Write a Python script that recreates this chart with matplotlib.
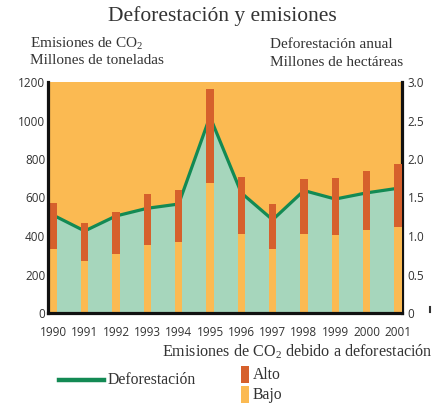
import matplotlib
matplotlib.use("Agg")
import matplotlib.pyplot as plt
from matplotlib.patches import Rectangle
from matplotlib.lines import Line2D

years = ["1990", "1991", "1992", "1993", "1994", "1995", "1996", "1997", "1998", "1999", "2000", "2001"]
# CO2 emissions due to deforestation (million tonnes)
bajo = [332, 270, 306, 353, 369, 675, 410, 332, 410, 405, 431, 447]
alto = [571, 468, 525, 618, 639, 1164, 706, 566, 696, 701, 738, 774]
# Annual deforestation (million hectares)
deforestacion = [1.27, 1.065, 1.26, 1.36, 1.415, 2.55, 1.56, 1.21, 1.59, 1.48, 1.56, 1.62]

ORANGE = "#FBBA52"
RED = "#D6602C"
GREEN_FILL = "#A6D6BC"
GREEN_LINE = "#138A54"
TXT = "#333333"

plt.rcParams["mathtext.fontset"] = "custom"
plt.rcParams["mathtext.rm"] = "Liberation Serif"
plt.rcParams["mathtext.it"] = "Liberation Serif:italic"
plt.rcParams["mathtext.bf"] = "Liberation Serif:bold"

W, H = 446, 407
fig = plt.figure(figsize=(W / 100, H / 100), dpi=100)
fig.patch.set_facecolor("white")

L, R, B, T = 48, 402, 313, 82
ax = fig.add_axes([L / W, 1 - B / H, (R - L) / W, (B - T) / H])
ax2 = ax.twinx()

x = list(range(len(years)))

# background + deforestation line on right axis
ax2.patch.set_visible(True)
ax2.set_facecolor(ORANGE)
ax2.fill_between(x, deforestacion, 0, color=GREEN_FILL, lw=0, zorder=1)
ax2.plot(x, deforestacion, color=GREEN_LINE, lw=2.3, zorder=2, solid_joinstyle="miter")
ax2.set_ylim(0, 3.0)
ax2.set_yticks([0, 0.5, 1.0, 1.5, 2.0, 2.5, 3.0])
ax2.set_yticklabels(["0", "0.5", "1.0", "1.5", "2.0", "2.5", "3.0"])

# bars on left axis, drawn above
ax.set_zorder(ax2.get_zorder() + 1)
ax.patch.set_visible(False)
bw = 0.24
ax.bar(x, bajo, width=bw, color=ORANGE, lw=0, zorder=3)
ax.bar(x, [a - b for a, b in zip(alto, bajo)], bottom=bajo, width=bw, color=RED, lw=0, zorder=3)
ax.set_ylim(0, 1200)
ax.set_yticks(range(0, 1201, 200))
ax.set_xlim(-0.17, 11.13)
ax.set_xticks(x)
ax.set_xticklabels(years)

for a in (ax, ax2):
    for s in a.spines.values():
        s.set_visible(False)
ax.spines["left"].set_visible(True)
ax.spines["bottom"].set_visible(True)
ax2.spines["right"].set_visible(True)
for s in (ax.spines["left"], ax.spines["bottom"], ax2.spines["right"]):
    s.set_linewidth(2.3)
    s.set_color("#111111")
    s.set_zorder(10)

ax.tick_params(axis="y", length=0, pad=2, labelcolor=TXT)
ax.tick_params(axis="x", length=0, pad=9, labelcolor=TXT)
ax2.tick_params(axis="y", length=0, pad=4, labelcolor=TXT)
for lab in ax.get_xticklabels() + ax.get_yticklabels() + ax2.get_yticklabels():
    lab.set_fontfamily("Open Sans")
    lab.set_fontsize(8.5)

serif = "Liberation Serif"
def ftext(px, py, s, size, ha="left", va="center"):
    fig.text(px / W, 1 - py / H, s, fontsize=size, family=serif, color=TXT, ha=ha, va=va)

ftext(222, 16, "Deforestación y emisiones", 15.5, ha="center")
ftext(30, 44, "Emisiones de CO$_2$", 11)
ftext(30, 61, "Millones de toneladas", 11)
ftext(270, 45, "Deforestación anual", 11)
ftext(270, 62, "Millones de hectáreas", 11)
ftext(433, 352, "Emisiones de CO$_2$ debido a deforestación", 11.6, ha="right")

# legend
fig.add_artist(Line2D([59 / W, 104 / W], [1 - 380 / H, 1 - 380 / H], color=GREEN_LINE, lw=3.2,
                      transform=fig.transFigure))
ftext(108, 380, "Deforestación", 11.3)
fig.add_artist(Rectangle((241 / W, 1 - 383 / H), 8 / W, 17 / H, color=RED, lw=0, transform=fig.transFigure))
fig.add_artist(Rectangle((241 / W, 1 - 403 / H), 8 / W, 17 / H, color=ORANGE, lw=0, transform=fig.transFigure))
ftext(253, 375, "Alto", 11.3)
ftext(253, 395, "Bajo", 11.3)

# small stray mark at right
fig.add_artist(Line2D([430 / W, 430 / W], [1 - 307 / H, 1 - 312 / H], color="#333333", lw=1.5,
                      transform=fig.transFigure))

fig.savefig("out.png", dpi=100)
